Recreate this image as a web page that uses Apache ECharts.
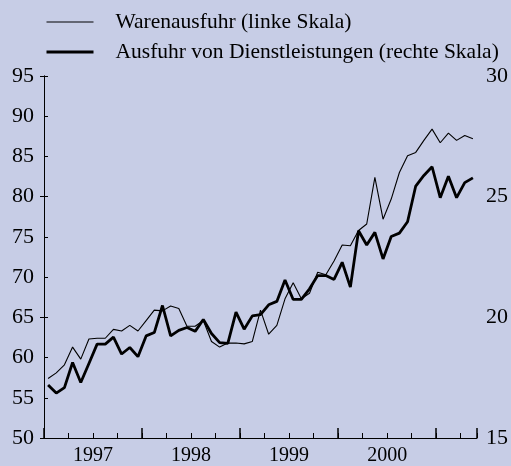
<!DOCTYPE html>
<html>
<head>
<meta charset="utf-8">
<script src="https://cdn.jsdelivr.net/npm/echarts@6/dist/echarts.min.js"></script>
<style>
  html, body { margin: 0; padding: 0; background: #c7cde6; }
  #chart { width: 511px; height: 466px; }
</style>
</head>
<body>
<div id="chart"></div>
<script>
// Monatswerte, Jan 1997 bis Mai 2001 (Index 0 = Jan 1997)
const yearLabels = ['1997', '1998', '1999', '2000'];
const firstYear = 1997;

// Warenausfuhr (linke Skala)
const warenausfuhr = [
  57.4, 58.1, 59.1, 61.3, 59.8, 62.3, 62.4, 62.4, 63.5, 63.3, 64.0, 63.3,
  64.6, 65.9, 65.8, 66.4, 66.1, 63.9, 63.9, 64.6, 62.0, 61.3, 61.8, 61.8,
  61.7, 62.0, 65.9, 62.9, 64.0, 67.3, 69.3, 67.3, 68.0, 70.6, 70.3, 72.0,
  74.0, 73.9, 75.8, 76.6, 82.4, 77.2, 79.7, 83.0, 85.1, 85.5, 87.0, 88.4,
  86.7, 87.9, 87.0, 87.6, 87.2
];

// Ausfuhr von Dienstleistungen (rechte Skala)
const dienstleistungen = [
  17.20, 16.86, 17.09, 18.13, 17.30, 18.09, 18.89, 18.89, 19.18, 18.48, 18.75, 18.37,
  19.23, 19.37, 20.49, 19.23, 19.46, 19.58, 19.42, 19.91, 19.33, 18.95, 18.92, 20.22,
  19.51, 20.06, 20.11, 20.52, 20.66, 21.55, 20.74, 20.74, 21.18, 21.73, 21.73, 21.57,
  22.28, 21.25, 23.59, 23.00, 23.52, 22.42, 23.35, 23.49, 23.96, 25.44, 25.88, 26.24,
  24.96, 25.85, 24.96, 25.58, 25.78
];

const FONT = 'Liberation Serif';

// Punkte jeweils in Monatsmitte
function toPoints(values) {
  return values.map((v, i) => [i + 0.5, v]);
}

const chart = echarts.init(document.getElementById('chart'));

chart.setOption({
  backgroundColor: '#c7cde6',
  animation: false,
  legend: {
    orient: 'vertical',
    left: 40,
    top: 6,
    itemWidth: 47,
    itemHeight: 20,
    itemGap: 8,
    itemStyle: { opacity: 0 },
    textStyle: {
      fontFamily: FONT,
      fontSize: 21.5,
      color: '#000',
      padding: [0, 0, 0, 17]
    },
    data: [
      { name: 'Warenausfuhr (linke Skala)', lineStyle: { width: 1.1, color: '#000' } },
      { name: 'Ausfuhr von Dienstleistungen (rechte Skala)', lineStyle: { width: 3, color: '#000' } }
    ]
  },
  grid: {
    left: 44,
    right: 33,
    top: 76,
    bottom: 26
  },
  xAxis: [
    {
      type: 'value',
      min: 0,
      max: 53,
      interval: 3,
      axisLine: { lineStyle: { color: '#000', width: 1 } },
      axisTick: { inside: true, length: 5, lineStyle: { color: '#000' } },
      splitLine: { show: false },
      axisLabel: {
        fontFamily: FONT,
        fontSize: 20,
        color: '#000',
        margin: 8,
        formatter: function(value) {
          if (value % 12 === 6) {
            return yearLabels[(value - 6) / 12] || String(firstYear + (value - 6) / 12);
          }
          return '';
        }
      }
    },
    {
      // längere Striche an den Jahresgrenzen
      type: 'value',
      position: 'bottom',
      min: 0,
      max: 53,
      interval: 12,
      axisLine: { show: false },
      axisTick: { inside: true, length: 10, lineStyle: { color: '#000', width: 1.5 } },
      axisLabel: { show: false },
      splitLine: { show: false }
    }
  ],
  yAxis: [
    {
      type: 'value',
      min: 50,
      max: 95,
      interval: 5,
      axisLine: { show: true, lineStyle: { color: '#000', width: 1 } },
      axisTick: { show: true, inside: true, length: 4, lineStyle: { color: '#000' } },
      splitLine: { show: false },
      axisLabel: { fontFamily: FONT, fontSize: 22, color: '#000', margin: 10 }
    },
    {
      type: 'value',
      min: 15,
      max: 30,
      interval: 5,
      position: 'right',
      axisLine: { show: true, lineStyle: { color: '#000', width: 1 } },
      axisTick: { show: true, inside: true, length: 4, lineStyle: { color: '#000' } },
      splitLine: { show: false },
      axisLabel: { fontFamily: FONT, fontSize: 22, color: '#000', margin: 9 }
    }
  ],
  series: [
    {
      name: 'Warenausfuhr (linke Skala)',
      type: 'line',
      xAxisIndex: 0,
      yAxisIndex: 0,
      data: toPoints(warenausfuhr),
      symbol: 'none',
      color: '#000',
      lineStyle: { color: '#000', width: 1.1 }
    },
    {
      name: 'Ausfuhr von Dienstleistungen (rechte Skala)',
      type: 'line',
      xAxisIndex: 0,
      yAxisIndex: 1,
      data: toPoints(dienstleistungen),
      symbol: 'none',
      color: '#000',
      lineStyle: { color: '#000', width: 2.8 }
    }
  ]
});
</script>
</body>
</html>
